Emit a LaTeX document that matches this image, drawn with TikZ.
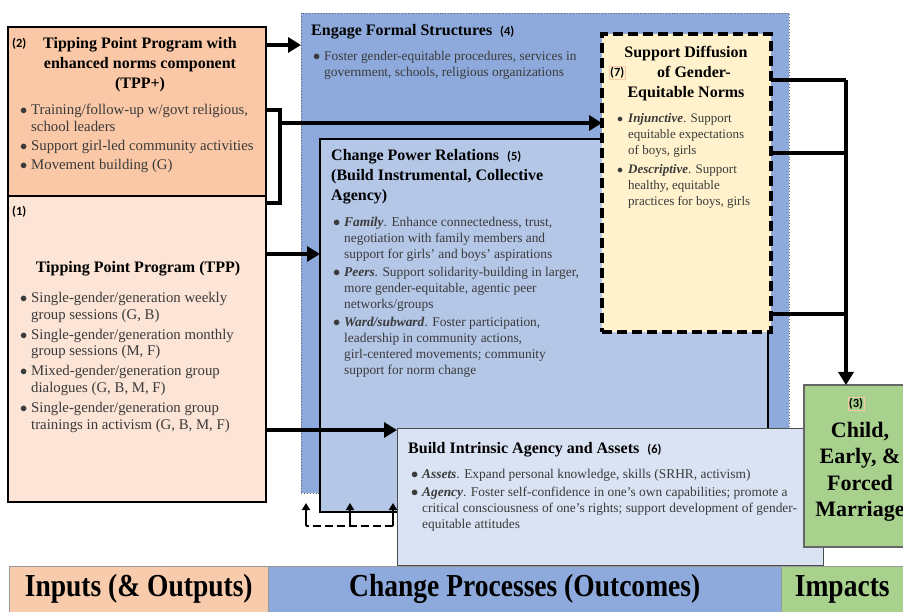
\documentclass[tikz,border=0pt]{standalone}
\usepackage{graphicx}
\usepackage{fontspec}
\setmainfont{Liberation Serif}
\newfontfamily\numfont{Carlito}
\usetikzlibrary{arrows.meta,positioning}

\definecolor{inpeach}{HTML}{FAC8A6}
\definecolor{tppfill}{HTML}{FCE4D6}
\definecolor{barpeach}{HTML}{F8CBAD}
\definecolor{formblue}{HTML}{8EAADC}
\definecolor{powblue}{HTML}{B4C7E7}
\definecolor{intblue}{HTML}{DAE3F3}
\definecolor{normfill}{HTML}{FFF2CC}
\definecolor{impgreen}{HTML}{A9D18E}
\definecolor{bodygray}{HTML}{3A3A3A}

\newcommand{\bitem}{\makebox[11pt][l]{$\bullet$}}
\newcommand{\bcont}{\hspace*{11pt}}
\newcommand{\numlab}[1]{{\numfont\bfseries\fontsize{12.5}{14}\selectfont(#1)}}
\newcommand{\lead}[1]{\textbf{\textit{#1}}}

\begin{document}
\begin{tikzpicture}[x=1pt,y=-1pt,
    box/.style={anchor=north west,inner sep=0pt,outer sep=0pt},
    title/.style={inner sep=0pt,font=\bfseries\fontsize{16}{20}\selectfont},
    body/.style={anchor=north west,inner sep=0pt,align=left,text=bodygray,
                 font=\fontsize{13.4}{16}\selectfont},
    num/.style={inner sep=0pt,anchor=west},
    bar/.style={anchor=north west,inner sep=0pt,minimum height=46pt,
                draw=black!40,line width=0.5pt,
                font=\bfseries\fontsize{32}{34}\selectfont},
    conn/.style={line width=4.5pt,-{Triangle[length=13pt,width=15pt]}},
    link/.style={line width=4.5pt},
    feed/.style={line width=2.4pt,dash pattern=on 8pt off 4pt},
    feedarr/.style={line width=2.4pt,-{Triangle[length=7pt,width=8pt]}}]

  \useasboundingbox (0,0) rectangle (903,612);

  % boxes
  \node[box,draw,line width=2pt,fill=inpeach,minimum width=258pt,minimum height=169pt] (tppplus) at (8,27) {};
  \node[box,draw,line width=2pt,fill=tppfill,minimum width=258pt,minimum height=306pt] (tpp) at (8,196) {};
  \node[box,draw=black!60,dotted,line width=0.9pt,fill=formblue,minimum width=488pt,minimum height=480pt] (formal) at (301,13) {};
  \node[box,draw,line width=1.5pt,fill=powblue,minimum width=448pt,minimum height=373pt] (power) at (320,139) {};
  \node[box,draw,line width=3.5pt,dash pattern=on 10pt off 5pt,fill=normfill,minimum width=169pt,minimum height=298pt] (norms) at (602,34) {};
  \node[box,draw=black!70,line width=1pt,fill=intblue,minimum width=426pt,minimum height=136pt] (intrinsic) at (397,429) {};
  \node[box,draw=black!60,line width=1.2pt,fill=impgreen,minimum width=110pt,minimum height=162pt] (cefm) at (804,385) {};

  % bottom bar
  \node[bar,fill=barpeach,minimum width=259pt] (inputs) at (9,566) {\scalebox{0.86}[1]{Inputs (\& Outputs)}};
  \node[bar,fill=formblue,minimum width=513pt] (processes) at (268,566) {\scalebox{0.86}[1]{Change Processes (Outcomes)}};
  \node[bar,fill=impgreen,minimum width=122pt] (impacts) at (781,566) {\scalebox{0.86}[1]{Impacts}};

  % (2) TPP+
  \node[num] (n2) at (12,44) {\numlab{2}};
  \node[title,align=center,anchor=north] (tppplustitle) at (140,37) {Tipping Point Program with\\enhanced norms component\\(TPP+)};
  \node[body,font=\fontsize{14.8}{17}\selectfont] (tppplusbody) at (20,104)
    {\bitem Training/follow-up w/govt religious,\\ \bcont school leaders\\[2pt]
     \bitem Support girl-led community activities\\[2pt]
     \bitem Movement building (G)};

  % (1) TPP
  \node[num] (n1) at (12,212) {\numlab{1}};
  \node[title,anchor=north] (tpptitle) at (138,261) {Tipping Point Program (TPP)};
  \node[body,font=\fontsize{14.8}{16.8}\selectfont] (tppbody) at (20,292)
    {\bitem Single-gender/generation weekly\\ \bcont group sessions (G, B)\\[3pt]
     \bitem Single-gender/generation monthly\\ \bcont group sessions (M, F)\\[3pt]
     \bitem Mixed-gender/generation group\\ \bcont dialogues (G, B, M, F)\\[3pt]
     \bitem Single-gender/generation group\\ \bcont trainings in activism (G, B, M, F)};

  % (4) formal structures
  \node[title,anchor=north west] (formaltitle) at (311,24) {Engage Formal Structures\hspace{8pt}\numlab{4}};
  \node[body] (formalbody) at (313,51)
    {\bitem Foster gender-equitable procedures, services in\\ \bcont government, schools, religious organizations};

  % (5) power relations
  \node[title,anchor=north west,align=left] (powertitle) at (331,149)
    {Change Power Relations\hspace{8pt}\numlab{5}\\(Build Instrumental, Collective\\Agency)};
  \node[body] (powerbody) at (333,217)
    {\bitem \lead{Family}. Enhance connectedness, trust,\\ \bcont negotiation with family members and\\ \bcont support for girls' and boys' aspirations\\[2pt]
     \bitem \lead{Peers}. Support solidarity-building in larger,\\ \bcont more gender-equitable, agentic peer\\ \bcont networks/groups\\[2pt]
     \bitem \lead{Ward/subward}. Foster participation,\\ \bcont leadership in community actions,\\ \bcont girl-centered movements; community\\ \bcont support for norm change};

  % (7) norms
  \node[title,align=center,anchor=north] (normstitle) at (686,46) {Support Diffusion\\\hspace*{16pt}of Gender-\\Equitable Norms};
  \node[num,draw=inpeach,line width=0.4pt,inner sep=1pt] (n7) at (609,73) {\numlab{7}};
  \node[body,font=\fontsize{13}{16}\selectfont] (normsbody) at (617,113)
    {\bitem \lead{Injunctive}. Support\\ \bcont equitable expectations\\ \bcont of boys, girls\\[3pt]
     \bitem \lead{Descriptive}. Support\\ \bcont healthy, equitable\\ \bcont practices for boys, girls};

  % (6) intrinsic agency
  \node[title,anchor=north west] (inttitle) at (408,442) {Build Intrinsic Agency and Assets\hspace{8pt}\numlab{6}};
  \node[body] (intbody) at (411,469)
    {\bitem \lead{Assets}. Expand personal knowledge, skills (SRHR, activism)\\[2pt]
     \bitem \lead{Agency}. Foster self-confidence in one's own capabilities; promote a\\ \bcont critical consciousness of one's rights; support development of gender-\\ \bcont equitable attitudes};

  % (3) impact
  \node[num,anchor=center,draw=inpeach,line width=0.4pt,inner sep=1pt] (n3) at (856,404) {\numlab{3}};
  \node[title,align=center,anchor=north,font=\bfseries\fontsize{22}{26.5}\selectfont] (cefmtitle) at (860,422)
    {Child,\\Early, \&\\Forced\\Marriage};

  % connectors
  \coordinate (brk) at (280,123);
  \coordinate (rj) at (846,80);
  \coordinate (fbtop) at (0,503);
  \coordinate (fbl) at (306,526);
  \coordinate (fbm) at (350,526);
  \coordinate (fbr) at (393,526);

  \draw[conn] (tppplus.east |- 0,45) -- (formal.west |- 0,45);
  \draw[link] (tppplus.east |- 0,110) -- (brk |- 0,110) -- (brk |- 0,203) -- (tpp.east |- 0,203);
  \draw[conn] (brk) -- (norms.west |- brk);
  \draw[conn] (tpp.east |- 0,254) -- (power.west |- 0,254);
  \draw[conn] (tpp.east |- 0,430) -- (intrinsic.west |- 0,430);

  \draw[link] (norms.east |- rj) -- (rj);
  \draw[link] (norms.east |- 0,153) -- (rj |- 0,153);
  \draw[link] (norms.east |- 0,314) -- (rj |- 0,314);
  \draw[conn] (rj) -- (cefm.north -| rj);

  \draw[feed] (fbr) -- (fbl);
  \draw[feedarr] (fbl) -- (fbl |- fbtop);
  \draw[feedarr] (fbm) -- (fbm |- fbtop);
  \draw[feedarr] (fbr) -- (fbr |- fbtop);

\end{tikzpicture}
\end{document}
